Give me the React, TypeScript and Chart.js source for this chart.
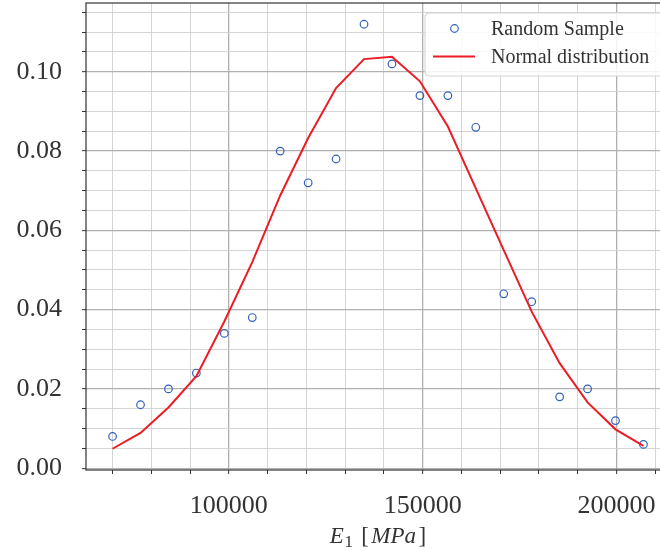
import React, { useEffect, useRef } from "react";
import { Chart, registerables } from "chart.js";

Chart.register(...registerables);

// ---- data ----
const xValues = [70000, 77210, 84420, 91620, 98830, 106040, 113250, 120460, 127660, 134870, 142080, 149290, 156500, 163700, 170910, 178120, 185330, 192540, 199740, 206950];
const sampleValues = [0.008, 0.016, 0.020, 0.024, 0.034, 0.038, 0.080, 0.072, 0.078, 0.112, 0.102, 0.094, 0.094, 0.086, 0.044, 0.042, 0.018, 0.020, 0.012, 0.006];
const normalValues = [0.0049, 0.0089, 0.0153, 0.0232, 0.0370, 0.0520, 0.0688, 0.0833, 0.0959, 0.1032, 0.1038, 0.0976, 0.0862, 0.0706, 0.0550, 0.0395, 0.0265, 0.0166, 0.0098, 0.0056];
const seriesLabels = ["Random Sample", "Normal distribution"];
const xMajorTicks = [100000, 150000, 200000];
const xTickLabels = ["100000", "150000", "200000"];
const yMajorTicks = [0, 0.02, 0.04, 0.06, 0.08, 0.10];
const yTickLabels = ["0.00", "0.02", "0.04", "0.06", "0.08", "0.10"];
const xMinorStep = 10000;
const yMinorStep = 0.005;
const xTitleParts = [
  { text: "E", italic: true, sub: false },
  { text: "1", italic: false, sub: true },
  { text: " [", italic: false, sub: false },
  { text: "MPa", italic: true, sub: false },
  { text: "]", italic: false, sub: false },
];

const FONT = "'Liberation Serif', 'Times New Roman', serif";
const TEXT = "#333333";
const BLUE = "#3060bb";
const RED = "#ec1c24";

const isMajor = (v: number, list: number[]) => list.some((m) => Math.abs(m - v) < 1e-9 * Math.max(1, Math.abs(m)) + 1e-9);

const framePlugin = {
  id: "frame",
  afterDatasetsDraw(chart: any) {
    const { ctx, chartArea: a } = chart;
    ctx.save();
    ctx.strokeStyle = "#333333";
    ctx.lineWidth = 1.2;
    ctx.strokeRect(a.left, a.top, a.right - a.left, a.bottom - a.top);
    ctx.restore();
  },
};

const legendPlugin = {
  id: "innerLegend",
  afterDraw(chart: any) {
    const { ctx, chartArea: a } = chart;
    const x0 = a.right - 245;
    const y0 = a.top + 10;
    const w = 270;
    const h = 63;
    ctx.save();
    ctx.beginPath();
    const r = 4;
    ctx.moveTo(x0 + r, y0);
    ctx.lineTo(x0 + w - r, y0);
    ctx.arcTo(x0 + w, y0, x0 + w, y0 + r, r);
    ctx.lineTo(x0 + w, y0 + h - r);
    ctx.arcTo(x0 + w, y0 + h, x0 + w - r, y0 + h, r);
    ctx.lineTo(x0 + r, y0 + h);
    ctx.arcTo(x0, y0 + h, x0, y0 + h - r, r);
    ctx.lineTo(x0, y0 + r);
    ctx.arcTo(x0, y0, x0 + r, y0, r);
    ctx.closePath();
    ctx.fillStyle = "rgba(255,255,255,0.85)";
    ctx.fill();
    ctx.strokeStyle = "#d3d3d3";
    ctx.lineWidth = 1;
    ctx.stroke();

    const labels = chart.data.datasets.map((d: any) => d.label);
    // entry 1: marker
    ctx.beginPath();
    ctx.arc(x0 + 29.5, y0 + 15.5, 3.8, 0, Math.PI * 2);
    ctx.strokeStyle = BLUE;
    ctx.lineWidth = 1.2;
    ctx.stroke();
    // entry 2: line
    ctx.beginPath();
    ctx.moveTo(x0 + 8, y0 + 43.5);
    ctx.lineTo(x0 + 50, y0 + 43.5);
    ctx.strokeStyle = RED;
    ctx.lineWidth = 2;
    ctx.stroke();

    ctx.fillStyle = TEXT;
    ctx.font = `20px ${FONT}`;
    ctx.textBaseline = "middle";
    ctx.textAlign = "left";
    ctx.fillText(labels[1], x0 + 66, y0 + 16.5);
    ctx.fillText(labels[0], x0 + 66, y0 + 44.5);
    ctx.restore();
  },
};

const titlePlugin = {
  id: "xTitle",
  afterDraw(chart: any) {
    const { ctx, chartArea: a } = chart;
    ctx.save();
    ctx.fillStyle = TEXT;
    ctx.textBaseline = "alphabetic";
    ctx.textAlign = "left";
    const fontFor = (p: any) => `${p.italic ? "italic " : ""}${p.sub ? 17 : 23}px ${FONT}`;
    const gapFor = (i: number) => (i === 0 ? 0 : xTitleParts[i].sub ? 0.5 : 2.5);
    let total = 0;
    xTitleParts.forEach((p, i) => {
      ctx.font = fontFor(p);
      total += ctx.measureText(p.text).width + gapFor(i);
    });
    let x = (a.left + a.right) / 2 - total / 2;
    const base = a.bottom + 73;
    xTitleParts.forEach((p, i) => {
      ctx.font = fontFor(p);
      x += gapFor(i);
      ctx.fillText(p.text, x, base + (p.sub ? 4 : 0));
      x += ctx.measureText(p.text).width;
    });
    ctx.restore();
  },
};

export default function App() {
  const ref = useRef<HTMLCanvasElement>(null);

  useEffect(() => {
    if (!ref.current) return;
    const chart = new Chart(ref.current, {
      type: "line",
      data: {
        datasets: [
          {
            label: seriesLabels[1],
            data: xValues.map((x, i) => ({ x, y: normalValues[i] })),
            borderColor: RED,
            borderWidth: 2,
            pointRadius: 0,
            tension: 0,
            fill: false,
          },
          {
            label: seriesLabels[0],
            data: xValues.map((x, i) => ({ x, y: sampleValues[i] })),
            showLine: false,
            pointRadius: 3.8,
            pointBorderWidth: 1.2,
            pointBorderColor: BLUE,
            pointBackgroundColor: "rgba(0,0,0,0)",
            borderColor: BLUE,
            backgroundColor: "rgba(0,0,0,0)",
          },
        ],
      },
      options: {
        responsive: false,
        animation: false,
        devicePixelRatio: 1,
        layout: { padding: { left: 0, top: 3, right: 30, bottom: 0 }, autoPadding: false },
        plugins: {
          legend: { display: false },
          tooltip: { enabled: false },
          title: { display: false },
        },
        scales: {
          x: {
            type: "linear",
            min: 63150,
            max: 213800,
            afterBuildTicks: (s: any) => {
              const t = [];
              for (let v = 70000; v <= 210000; v += xMinorStep) t.push({ value: v });
              s.ticks = t;
            },
            afterFit: (s: any) => {
              s.height = 81;
              s.paddingLeft = 0;
              s.paddingRight = 0;
              s.paddingTop = 0;
              s.paddingBottom = 0;
            },
            ticks: {
              autoSkip: false,
              maxRotation: 0,
              minRotation: 0,
              padding: 17,
              color: TEXT,
              font: { family: FONT, size: 26 },
              callback: (v: any) => {
                const i = xMajorTicks.findIndex((m) => m === v);
                return i >= 0 ? xTickLabels[i] : "";
              },
            },
            grid: {
              color: (c: any) => (c.tick && isMajor(c.tick.value, xMajorTicks) ? "#b0b0b0" : "#d0d0d0"),
              lineWidth: (c: any) => (c.tick && isMajor(c.tick.value, xMajorTicks) ? 1.3 : 0.9),
              tickLength: 4,
              tickColor: "#333333",
              tickWidth: 1,
            },
            border: { display: false },
          },
          y: {
            type: "linear",
            min: -0.00046,
            max: 0.11736,
            afterBuildTicks: (s: any) => {
              const t = [];
              for (let k = 0; k <= 23; k++) t.push({ value: Math.round(k * yMinorStep * 1000) / 1000 });
              s.ticks = t;
            },
            afterFit: (s: any) => {
              s.width = 86;
              s.paddingLeft = 0;
              s.paddingRight = 0;
              s.paddingTop = 0;
              s.paddingBottom = 0;
            },
            ticks: {
              autoSkip: false,
              padding: 20,
              color: TEXT,
              font: { family: FONT, size: 26 },
              callback: (v: any) => {
                const i = yMajorTicks.findIndex((m) => Math.abs(m - v) < 1e-9);
                return i >= 0 ? yTickLabels[i] : "";
              },
            },
            grid: {
              color: (c: any) => (c.tick && isMajor(c.tick.value, yMajorTicks) ? "#b0b0b0" : "#d0d0d0"),
              lineWidth: (c: any) => (c.tick && isMajor(c.tick.value, yMajorTicks) ? 1.3 : 0.9),
              tickLength: 4,
              tickColor: "#333333",
              tickWidth: 1,
            },
            border: { display: false },
          },
        },
      },
      plugins: [framePlugin, legendPlugin, titlePlugin],
    } as any);
    return () => chart.destroy();
  }, []);

  return (
    <div style={{ position: "fixed", left: 0, top: 0, width: 660, height: 551, overflow: "hidden", background: "#ffffff" }}>
      <canvas ref={ref} width={700} height={551} style={{ display: "block", width: 700, height: 551 }} />
    </div>
  );
}
